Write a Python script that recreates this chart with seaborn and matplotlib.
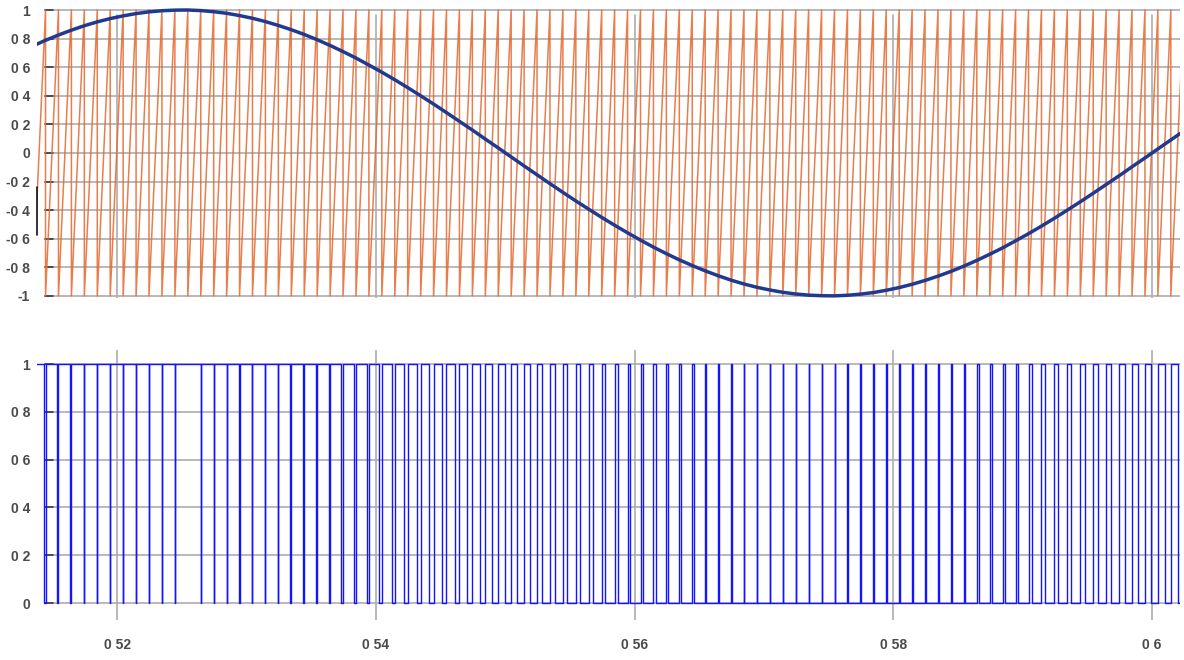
import matplotlib
matplotlib.use("Agg")
import matplotlib.pyplot as plt
import seaborn as sns

# ---------------- data ----------------
# carrier (sawtooth) reset instants, seconds
carrier_resets = [
    0.51345, 0.51445, 0.51545, 0.51645, 0.51745, 0.51845, 0.51945, 0.52045, 0.52145, 0.52245,
    0.52345, 0.52445, 0.52545, 0.52645, 0.52745, 0.52845, 0.52945, 0.53045, 0.53145, 0.53245,
    0.53345, 0.53445, 0.53545, 0.53645, 0.53745, 0.53845, 0.53945, 0.54045, 0.54145, 0.54245,
    0.54345, 0.54445, 0.54545, 0.54645, 0.54745, 0.54845, 0.54945, 0.55045, 0.55145, 0.55245,
    0.55345, 0.55445, 0.55545, 0.55645, 0.55745, 0.55845, 0.55945, 0.56045, 0.56145, 0.56245,
    0.56345, 0.56445, 0.56545, 0.56645, 0.56745, 0.56845, 0.56945, 0.57045, 0.57145, 0.57245,
    0.57345, 0.57445, 0.57545, 0.57645, 0.57745, 0.57845, 0.57945, 0.58045, 0.58145, 0.58245,
    0.58345, 0.58445, 0.58545, 0.58645, 0.58745, 0.58845, 0.58945, 0.59045, 0.59145, 0.59245,
    0.59345, 0.59445, 0.59545, 0.59645, 0.59745, 0.59845, 0.59945, 0.60045, 0.60145, 0.60245,
]
carrier_low = -1.0
carrier_high = 1.0

# reference (sine) value at each of the instants above
sine_values = [
    0.748, 0.788, 0.825, 0.859, 0.890, 0.917, 0.940, 0.959, 0.975, 0.987,
    0.995, 0.999, 1.000, 0.996, 0.988, 0.977, 0.961, 0.942, 0.919, 0.892,
    0.862, 0.829, 0.792, 0.752, 0.709, 0.664, 0.615, 0.565, 0.512, 0.457,
    0.400, 0.342, 0.282, 0.221, 0.160, 0.097, 0.035, -0.028, -0.091, -0.153,
    -0.215, -0.276, -0.336, -0.394, -0.451, -0.506, -0.559, -0.610, -0.659, -0.705,
    -0.748, -0.788, -0.825, -0.859, -0.890, -0.917, -0.940, -0.959, -0.975, -0.987,
    -0.995, -0.999, -1.000, -0.996, -0.988, -0.977, -0.961, -0.942, -0.919, -0.892,
    -0.862, -0.829, -0.792, -0.752, -0.709, -0.664, -0.615, -0.565, -0.512, -0.457,
    -0.400, -0.342, -0.282, -0.221, -0.160, -0.097, -0.035, 0.028, 0.091, 0.153,
]

x_ticks = [0.52, 0.54, 0.56, 0.58, 0.60]
x_tick_labels = ["0 52", "0 54", "0 56", "0 58", "0 6"]
top_y_ticks = [1, 0.8, 0.6, 0.4, 0.2, 0, -0.2, -0.4, -0.6, -0.8, -1]
top_y_labels = ["1", "0 8", "0 6", "0 4", "0 2", "0", "-0 2", "-0 4", "-0 6", "-0 8", "-1"]
bot_y_ticks = [1, 0.8, 0.6, 0.4, 0.2, 0]
bot_y_labels = ["1", "0 8", "0 6", "0 4", "0 2", "0"]
x_range = (0.51379, 0.60216)

# ---------------- build line series from the data ----------------
saw_x, saw_y = [carrier_resets[0]], [carrier_low]
for r in carrier_resets[1:]:
    saw_x += [r, r]
    saw_y += [carrier_high, carrier_low]

pwm_x, pwm_y = [carrier_resets[0], carrier_resets[0]], [0, 1]
for k in range(len(carrier_resets) - 1):
    r, rn = carrier_resets[k], carrier_resets[k + 1]
    mid = (sine_values[k] + sine_values[k + 1]) / 2
    duty = (mid + 1) / 2
    if 1 - duty < 0.0005:
        pwm_x += [rn]
        pwm_y += [1]
    else:
        f = r + duty * (rn - r)
        pwm_x += [f, f, rn, rn]
        pwm_y += [1, 0, 0, 1]

# ---------------- figure ----------------
sns.set_theme(style="white")
plt.rcParams["font.family"] = ["Liberation Sans", "DejaVu Sans"]

W, H = 1184, 660
fig = plt.figure(figsize=(W / 100, H / 100), dpi=100)
ax1 = fig.add_axes([37 / W, 1 - 298 / H, 1143 / W, 295 / H])
ax2 = fig.add_axes([37 / W, 1 - 620 / H, 1143 / W, 270 / H])

grid_c = "#adadad"
tick_c = "#3a3a3a"
lab_c = "#4a4a4a"
gx0 = 8 / 1143

for ax in (ax1, ax2):
    ax.set_xlim(*x_range)
    for s in ax.spines.values():
        s.set_visible(False)
    ax.set_facecolor("white")

ax1.set_ylim(-1.015, 1.049)
ax2.set_ylim(-0.0711, 1.0586)

# grids
for y in top_y_ticks:
    ax1.axhline(y, xmin=gx0, xmax=1, color=grid_c, lw=1.2, zorder=0)
    ax1.axhline(y, xmin=gx0, xmax=16 / 1143, color=tick_c, lw=1.2, zorder=0.5)
for y in bot_y_ticks:
    ax2.axhline(y, xmin=gx0, xmax=1, color=grid_c, lw=1.2, zorder=0)
    ax2.axhline(y, xmin=gx0, xmax=16 / 1143, color=tick_c, lw=1.2, zorder=0.5)
for x in x_ticks:
    ax1.axvline(x, ymin=0, ymax=0.959, color=grid_c, lw=1.2, zorder=0)
    ax2.axvline(x, ymin=0, ymax=1, color=grid_c, lw=1.2, zorder=0)

# lines
sns.lineplot(x=saw_x, y=saw_y, sort=False, estimator=None, ax=ax1,
             color="#e6672e", lw=1.1, alpha=0.85, zorder=2)
sns.lineplot(x=carrier_resets, y=sine_values, sort=False, estimator=None, ax=ax1,
             color="#1f3a8f", lw=2.5, zorder=3)
sns.lineplot(x=pwm_x, y=pwm_y, sort=False, estimator=None, ax=ax2,
             color="#1414ff", lw=1.0, zorder=2)

# ticks / labels
ax1.set_xticks([])
ax1.set_yticks(top_y_ticks)
ax1.set_yticklabels(top_y_labels)
ax2.set_yticks(bot_y_ticks)
ax2.set_yticklabels(bot_y_labels)
ax2.set_xticks(x_ticks)
ax2.set_xticklabels(x_tick_labels)
for ax in (ax1, ax2):
    ax.tick_params(axis="y", length=0, pad=5, labelsize=10, labelcolor=lab_c)
    for t in ax.get_yticklabels():
        t.set_fontweight("bold")
ax2.tick_params(axis="x", length=0, pad=13, labelsize=10, labelcolor=lab_c)
for t in ax2.get_xticklabels():
    t.set_fontweight("bold")
for ax in (ax1, ax2):
    ax.set_xlabel("")
    ax.set_ylabel("")
    if ax.get_legend() is not None:
        ax.get_legend().remove()

# small left-axis fragment visible in the reference
ax1.plot([0, 0], [0.2136, 0.376], transform=ax1.transAxes, color="#111111",
         lw=1.2, clip_on=False, zorder=5)

fig.savefig("out.png", dpi=100, facecolor="white")
